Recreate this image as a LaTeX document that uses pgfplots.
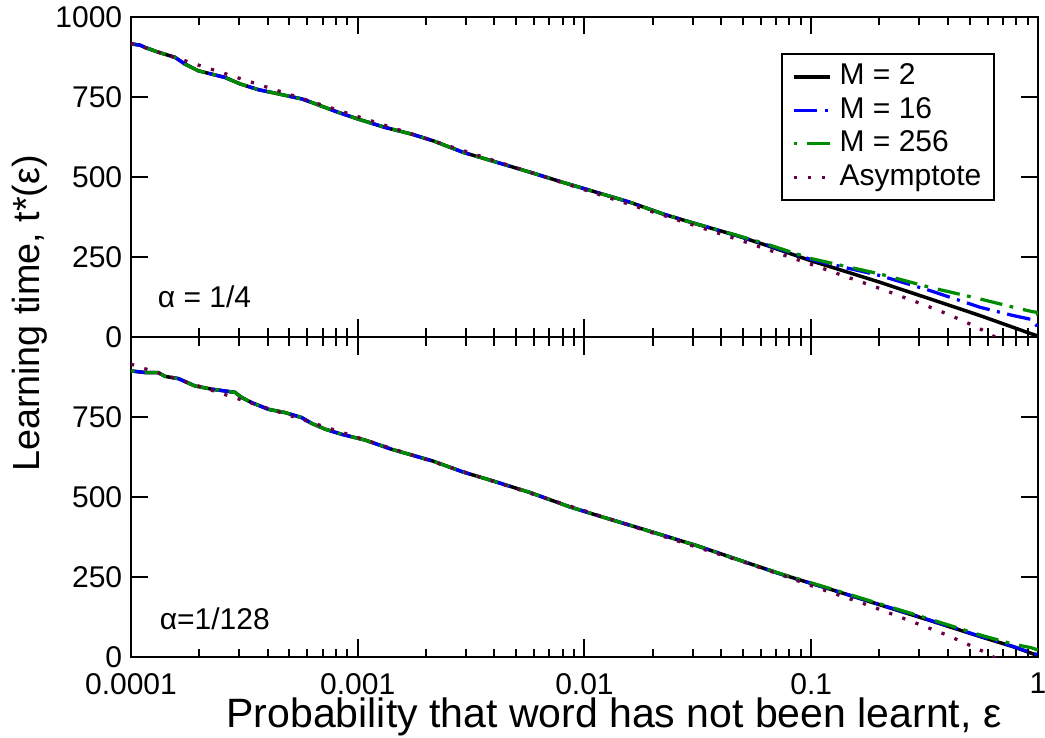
\documentclass[border=0pt]{standalone}
\usepackage{pgfplots}
\pgfplotsset{compat=1.18}
\usepackage{pgfplotstable}
\usepackage{fontspec}
\setmainfont{Liberation Sans}

\definecolor{mgreen}{RGB}{0,140,0}
\definecolor{mblue}{RGB}{0,0,255}
\definecolor{mpurple}{RGB}{103,0,71}

\pgfkeys{/pgf/number format/assume math mode=true}
\pgfkeys{/pgf/number format/1000 sep={}}

% top panel (alpha = 1/4): lg = log10(epsilon)
\pgfplotstableread{
lg m2 m16 m256
-4.000 916 916 916
-3.960 912 912 912
-3.938 905 905 905
-3.880 890 890 890
-3.806 874 874 874
-3.762 853 853 853
-3.703 832 832 832
-3.585 811 811 811
-3.519 791 791 791
-3.439 773 773 773
-3.365 762 762 762
-3.247 744 744 744
-3.203 733 733 733
-3.086 702 702 702
-2.998 681 681 681
-2.880 655 655 655
-2.762 634 634 634
-2.667 613 613 613
-2.535 577 577 577
-2.387 546 546 546
-2.240 515 515 515
-2.094 483 483 483
-1.946 452 452 452
-1.799 421 421 421
-1.652 384 384 384
-1.505 353 353 353
-1.329 317 317 318
-1.200 287 289 291
-1.000 238 242 245
-0.850 205 217 221
-0.697 171 192 197
-0.476 119 145 155
-0.256 67 93 119
-0.109 30 67 93
-0.030 10 55 80
-0.005 4 35 77
0.000 2 12 68
}\toptab

\pgfplotstableread{
lg t
-4.000 918
-3.000 689
-2.000 460
-1.500 345
-1.307 301
-1.138 260
-1.000 227
-0.800 177
-0.682 148
-0.600 126
-0.500 100
-0.403 73
-0.292 38
-0.238 19
-0.170 -8
-0.100 -38
}\topasym

% bottom panel (alpha = 1/128)
\pgfplotstableread{
lg m2 m16 m256
-4.000 894 894 894
-3.938 889 889 889
-3.880 889 889 889
-3.850 877 877 877
-3.791 870 870 870
-3.718 847 847 847
-3.644 837 837 837
-3.541 827 827 827
-3.512 811 811 811
-3.468 795 795 795
-3.394 774 774 774
-3.321 764 764 764
-3.247 748 748 748
-3.203 730 730 730
-3.144 712 712 712
-3.071 696 696 696
-2.968 678 678 678
-2.850 649 649 649
-2.667 612 612 612
-2.535 578 578 578
-2.417 553 553 553
-2.240 514 514 514
-2.064 469 469 469
-1.932 440 440 440
-1.726 396 396 396
-1.505 348 348 348
-1.322 304 304 304
-1.138 260 260 261
-0.917 212 212 214
-0.697 163 164 166
-0.476 114 115 118
-0.256 64 65 69
-0.109 32 33 40
-0.030 12 13 29
0.000 4 7 22
}\bottab

\pgfplotstableread{
lg t
-4.000 915
-3.000 686
-2.000 457
-1.500 342
-1.307 299
-1.138 258
-0.969 215
-0.851 187
-0.741 160
-0.628 130
-0.516 100
-0.403 69
-0.292 34
-0.238 16
-0.170 -10
-0.100 -40
}\botasym

\pgfplotsset{
  mypanel/.style={
    scale only axis, width=362.8pt, height=128pt,
    xmin=1e-4, xmax=1, ymin=0, ymax=1000,
    xtick={1e-4,1e-3,1e-2,1e-1,1},
    minor xtick={2e-4,3e-4,4e-4,5e-4,6e-4,7e-4,8e-4,9e-4,
                 2e-3,3e-3,4e-3,5e-3,6e-3,7e-3,8e-3,9e-3,
                 2e-2,3e-2,4e-2,5e-2,6e-2,7e-2,8e-2,9e-2,
                 0.2,0.3,0.4,0.5,0.6,0.7,0.8,0.9},
    tick align=inside,
    major tick length=7pt, minor tick length=3.4pt,
    every tick/.style={black, line width=0.8pt},
    axis line style={line width=0.9pt},
    tick label style={font=\fontsize{12}{14}\selectfont},
    xticklabel style={yshift=-3pt},
    clip=true,
  },
  s2/.style={black, line width=1.4pt},
  s16/.style={mblue, line width=1.3pt, dash pattern=on 9.5pt off 3pt on 1.2pt off 3pt},
  s256/.style={mgreen, line width=1.3pt, dash pattern=on 1.5pt off 4pt on 9pt off 3pt},
  sas/.style={mpurple, line width=1.3pt, dash pattern=on 1.3pt off 4.3pt},
}

\begin{document}
\begin{tikzpicture}
% bottom panel
\begin{axis}[xmode=log, mypanel, at={(0,0)}, anchor=south west,
  ytick={0,250,500,750},
  xticklabels={0.0001,0.001,0.01,0.1,1}]
  \addplot[s2] table[x expr=10^\thisrow{lg}, y=m2] {\bottab};
  \addplot[s16] table[x expr=10^\thisrow{lg}, y=m16] {\bottab};
  \addplot[s256] table[x expr=10^\thisrow{lg}, y=m256] {\bottab};
  \addplot[sas] table[x expr=10^\thisrow{lg}, y=t] {\botasym};
  \node[anchor=west, font=\fontsize{12}{14}\selectfont] at (rel axis cs:0.022,0.12) {α=1/128};
\end{axis}
% top panel
\begin{axis}[xmode=log, mypanel, at={(0,128pt)}, anchor=south west,
  ytick={0,250,500,750,1000},
  xticklabels={},
  legend cell align=left,
  legend image code/.code={\draw[#1] (0pt,0pt) -- (14.6pt,0pt);},
  legend style={at={(0.9526,0.8875)}, anchor=north east, draw=black, line width=0.7pt,
    font=\fontsize{12}{14}\selectfont, row sep=0pt, column sep=2pt,
    inner xsep=4pt, inner ysep=2.5pt,
    nodes={inner sep=1.1pt, text height=8.8pt, text depth=2.4pt}}]
  \addplot[s2] table[x expr=10^\thisrow{lg}, y=m2] {\toptab};
  \addlegendentry{M = 2}
  \addplot[s16] table[x expr=10^\thisrow{lg}, y=m16] {\toptab};
  \addlegendentry{M = 16}
  \addplot[s256] table[x expr=10^\thisrow{lg}, y=m256] {\toptab};
  \addlegendentry{M = 256}
  \addplot[sas] table[x expr=10^\thisrow{lg}, y=t] {\topasym};
  \addlegendentry{Asymptote}
  \node[anchor=west, font=\fontsize{12}{14}\selectfont] at (rel axis cs:0.02,0.125) {α = 1/4};
\end{axis}
\node[rotate=90, font=\fontsize{15.1}{18}\selectfont] at (-40.4pt,137.4pt) {Learning time, t*(ε)};
\node[anchor=base, font=\fontsize{16.4}{19}\selectfont] at (193.2pt,-28pt) {Probability that word has not been learnt, ε};
\pgfresetboundingbox
\useasboundingbox (-52.4pt,-32pt) rectangle (365.6pt,262.8pt);
\end{tikzpicture}
\end{document}
